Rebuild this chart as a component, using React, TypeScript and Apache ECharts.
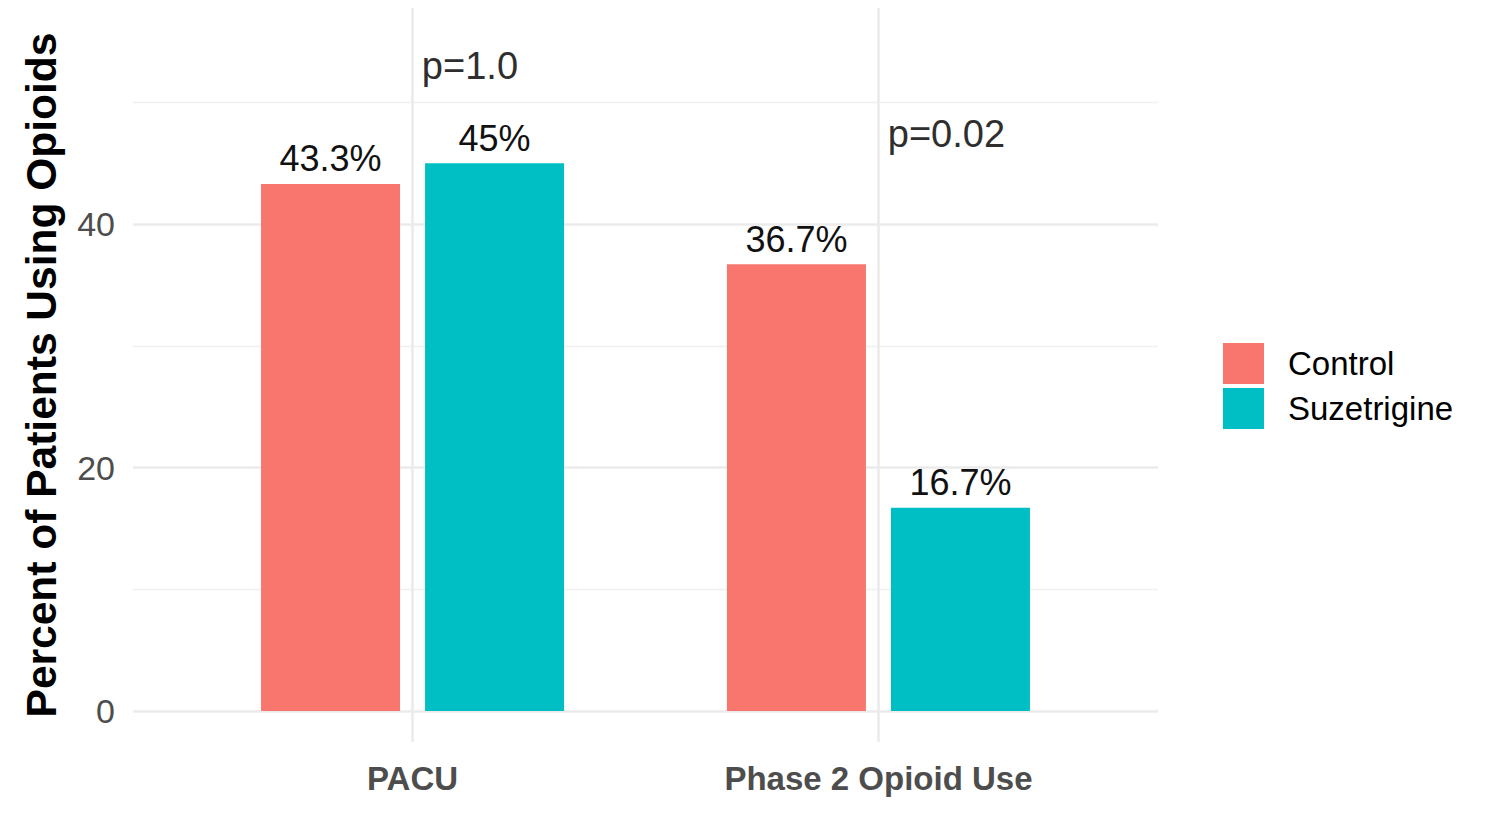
import React, { useEffect, useRef } from "react";
import * as echarts from "echarts";

const categories = ["PACU", "Phase 2 Opioid Use"];
const categoryPositions = [1, 2];
const controlValues = [43.3, 36.7];
const suzetrigineValues = [45, 16.7];
const seriesNames = ["Control", "Suzetrigine"];
const pLabels = ["p=1.0", "p=0.02"];
const pLabelX = [1.02, 2.02];
const pLabelY = [53, 47.4];
const yTickLabels = [0, 20, 40];
const majorGrid = [0, 20, 40];
const minorGrid = [10, 30, 50];

const FONT = "'Liberation Sans', Arial, Helvetica, sans-serif";
const COLORS = ["#F8766D", "#00BFC4"];

export default function App() {
  const ref = useRef<HTMLDivElement>(null);

  useEffect(() => {
    if (!ref.current) return;
    const chart = echarts.init(ref.current, null, { renderer: "svg" });

    const gridLines: any[] = [];
    majorGrid.forEach((v) =>
      gridLines.push({ yAxis: v, lineStyle: { color: "#ebebeb", width: 2.6, type: "solid" } })
    );
    minorGrid.forEach((v) =>
      gridLines.push({ yAxis: v, lineStyle: { color: "#f0f0f0", width: 1.3, type: "solid" } })
    );
    categoryPositions.forEach((x) =>
      gridLines.push({ xAxis: x, lineStyle: { color: "#ebebeb", width: 2.6, type: "solid" } })
    );

    const option: any = {
      animation: false,
      textStyle: { fontFamily: FONT },
      grid: { left: 133, top: 8, width: 1025, height: 734, containLabel: false },
      legend: {
        orient: "vertical",
        left: 1218,
        top: 338,
        itemWidth: 41,
        itemHeight: 41,
        itemGap: 4,
        icon: "rect",
        data: seriesNames,
        textStyle: { fontSize: 33, color: "#000", fontFamily: FONT, padding: [0, 0, 0, 19] },
        selectedMode: false,
      },
      xAxis: {
        type: "value",
        min: 0.4,
        max: 2.6,
        axisLine: { show: false },
        axisTick: { show: false },
        splitLine: { show: false },
        axisLabel: {
          customValues: categoryPositions,
          formatter: (v: number) => categories[Math.round(v) - 1] ?? "",
          fontSize: 33,
          fontWeight: "bold",
          color: "#4d4d4d",
          margin: 20,
          fontFamily: FONT,
        },
      },
      yAxis: {
        type: "value",
        min: -2.55,
        max: 57.75,
        name: "Percent of Patients Using Opioids",
        nameLocation: "middle",
        nameGap: 70,
        nameTextStyle: { fontSize: 42.5, fontWeight: "bold", color: "#000", fontFamily: FONT },
        axisLine: { show: false },
        axisTick: { show: false },
        splitLine: { show: false },
        axisLabel: {
          customValues: yTickLabels,
          fontSize: 34,
          color: "#4d4d4d",
          margin: 18,
          fontFamily: FONT,
        },
      },
      series: [
        {
          name: seriesNames[0],
          type: "bar",
          z: 3,
          barWidth: 139,
          barGap: "18%",
          itemStyle: { color: COLORS[0] },
          data: categoryPositions.map((x, i) => [x, controlValues[i]]),
          label: {
            show: true,
            position: "top",
            distance: 7,
            fontSize: 36,
            color: "#111",
            fontFamily: FONT,
            formatter: (p: any) => `${p.value[1]}%`,
          },
        },
        {
          name: seriesNames[1],
          type: "bar",
          z: 3,
          barWidth: 139,
          barGap: "18%",
          itemStyle: { color: COLORS[1] },
          data: categoryPositions.map((x, i) => [x, suzetrigineValues[i]]),
          label: {
            show: true,
            position: "top",
            distance: 7,
            fontSize: 36,
            color: "#111",
            fontFamily: FONT,
            formatter: (p: any) => `${p.value[1]}%`,
          },
        },
        {
          name: "pvalues",
          type: "scatter",
          z: 1,
          symbolSize: 0,
          silent: true,
          itemStyle: { color: "transparent", opacity: 1 },
          data: pLabelX.map((x, i) => ({ value: [x, pLabelY[i]], name: pLabels[i] })),
          label: {
            show: true,
            position: [0, 0],
            align: "left",
            verticalAlign: "middle",
            fontSize: 38,
            color: "#2e2e2e",
            textBorderWidth: 0,
            textBorderColor: "transparent",
            fontFamily: FONT,
            formatter: (p: any) => p.name,
          },
          markLine: {
            silent: true,
            z: 1,
            symbol: "none",
            label: { show: false },
            emphasis: { disabled: true },
            data: gridLines,
          },
        },
      ],
    };

    chart.setOption(option);
    return () => chart.dispose();
  }, []);

  return (
    <div
      ref={ref}
      style={{ position: "fixed", left: 0, top: 0, width: 1489, height: 816, background: "#fff" }}
    />
  );
}
